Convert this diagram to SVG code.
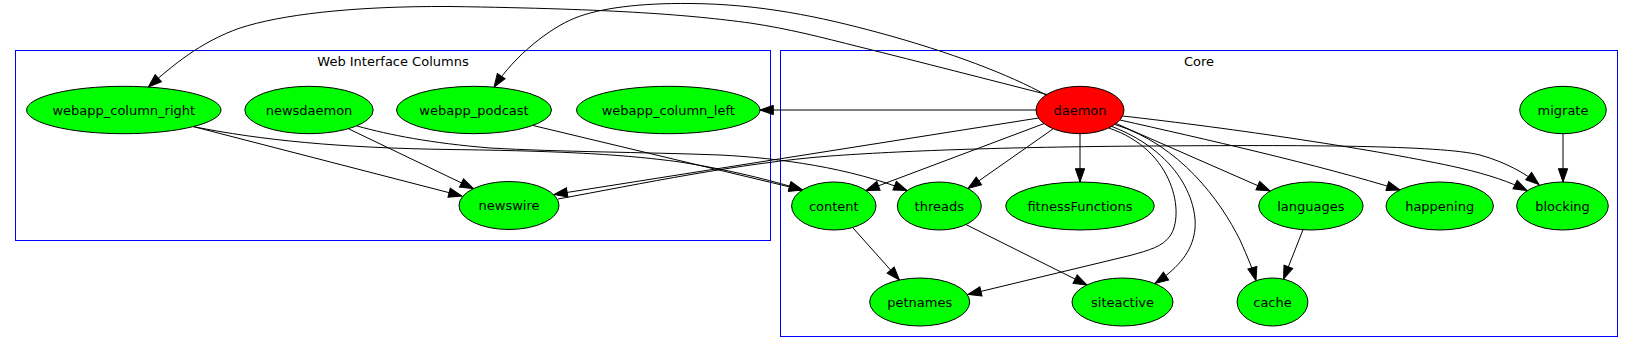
<svg xmlns="http://www.w3.org/2000/svg" width="1635" height="353" viewBox="0 0 1635 353">
<style>
.cl{fill:none;stroke:#0000ff;stroke-width:1}
.ct{font-family:"DejaVu Sans",sans-serif;font-size:13px;text-anchor:middle;fill:#000}
.n{fill:#00ff00;stroke:#000;stroke-width:1}
.r{fill:#ff0000;stroke:#000;stroke-width:1}
.t{font-family:"DejaVu Sans",sans-serif;font-size:13px;text-anchor:middle;fill:#000}
.e{fill:none;stroke:#000;stroke-width:1;marker-end:url(#ah)}
</style>
<defs>
<marker id="ah" markerUnits="userSpaceOnUse" markerWidth="15" markerHeight="11" refX="13.3" refY="4.67" orient="auto" overflow="visible">
<path d="M0,0 L13.3,4.67 L0,9.33 Z" fill="#000" stroke="#000" stroke-width="1"/>
</marker>
</defs>
<rect x="0" y="0" width="1635" height="353" fill="#fff"/>
<g id="cluster_web">
<rect class="cl" x="15.5" y="50.5" width="755" height="190"/>
<text class="ct" x="393" y="66">Web Interface Columns</text>
</g>
<g id="cluster_core">
<rect class="cl" x="780.5" y="50.5" width="837" height="286"/>
<text class="ct" x="1199" y="66">Core</text>
</g>
<g id="edges">
<path id="e_daemon_colright" class="e" d="M1047,94.5 C990,80 920,62 860,47 C820,37 790,29 750,23 C690,15 620,9 450,6.5 C350,6 280,15 240,28 C200,42 172,66 148.3,87"/>
<path id="e_daemon_podcast" class="e" d="M1046,95 C1010,75 950,52 880,33 C820,16.7 760,4 690,3.5 C640,3 600,8 575,18 C550,28 515,55 494,87.3"/>
<path id="e_daemon_colleft" class="e" d="M1036,110 L760,110"/>
<path id="e_daemon_newswire" class="e" d="M1038.6,118 L554,194.5"/>
<path id="e_daemon_content" class="e" d="M1044,123.6 L866,190.5"/>
<path id="e_daemon_threads" class="e" d="M1053.2,128.8 L968,188.5"/>
<path id="e_daemon_fitness" class="e" d="M1080,133.7 L1080,182"/>
<path id="e_daemon_petnames" class="e" d="M1108.6,128 C1175,150 1185,215 1170,236 C1162.5,246.5 1150,250 1130,255.5 L968,294.5"/>
<path id="e_daemon_siteactive" class="e" d="M1112,126.5 C1185,155 1200,210 1194,235 C1190,255 1175,270 1155,283.5"/>
<path id="e_daemon_cache" class="e" d="M1115,124.5 C1180,145 1220,200 1240,240 C1248,258 1253,270 1256,280.5"/>
<path id="e_daemon_languages" class="e" d="M1116,123.5 L1270,191"/>
<path id="e_daemon_happening" class="e" d="M1120,120 C1200,138 1320,165 1400,190"/>
<path id="e_daemon_blocking" class="e" d="M1122.5,116 C1230,128 1380,150 1460,168 C1490,175 1510,182 1527,190.5"/>
<path id="e_migrate_blocking" class="e" d="M1563,133.7 L1563,182"/>
<path id="e_content_petnames" class="e" d="M852.6,227.5 L899.5,280"/>
<path id="e_threads_siteactive" class="e" d="M966,224.6 L1087,285"/>
<path id="e_languages_cache" class="e" d="M1303,229.7 L1283.5,279.2"/>
<path id="e_colright_newswire" class="e" d="M193.3,126.6 L462,196"/>
<path id="e_newsdaemon_newswire" class="e" d="M348.3,128.7 L473.5,188.7"/>
<path id="e_colright_content" class="e" d="M193.3,126.6 C260,140 340,148 450,149.5 C560,151 620,154 680,162 C730,170 770,180 802.5,190"/>
<path id="e_newsdaemon_threads" class="e" d="M357,126 C390,135 430,143 490,148 C560,152 640,152 720,155 C780,158 850,168 907,190.5"/>
<path id="e_podcast_content" class="e" d="M533,125.5 L802.5,190"/>
<path id="e_newswire_blocking" class="e" d="M558,199 C640,184 740,163 830,156 C900,151 1000,147 1150,146 C1300,145 1440,145 1480,155 C1505,162 1525,173 1539,184.5"/>
</g>
<g id="node_webapp_column_right"><ellipse class="n" cx="123.8" cy="110" rx="97.2" ry="23.7"/><text class="t" x="123.8" y="114.5">webapp_column_right</text></g>
<g id="node_newsdaemon"><ellipse class="n" cx="309" cy="110" rx="64.2" ry="23.7"/><text class="t" x="309" y="114.5">newsdaemon</text></g>
<g id="node_webapp_podcast"><ellipse class="n" cx="474" cy="110" rx="77.5" ry="23.7"/><text class="t" x="474" y="114.5">webapp_podcast</text></g>
<g id="node_webapp_column_left"><ellipse class="n" cx="668.3" cy="110" rx="91.7" ry="23.7"/><text class="t" x="668.3" y="114.5">webapp_column_left</text></g>
<g id="node_newswire"><ellipse class="n" cx="509" cy="205.5" rx="50" ry="24"/><text class="t" x="509" y="210">newswire</text></g>
<g id="node_daemon"><ellipse class="r" cx="1080" cy="110" rx="44" ry="23.7"/><text class="t" x="1080" y="114.5">daemon</text></g>
<g id="node_migrate"><ellipse class="n" cx="1563" cy="110" rx="43.3" ry="23.7"/><text class="t" x="1563" y="114.5">migrate</text></g>
<g id="node_content"><ellipse class="n" cx="833.8" cy="206" rx="42.2" ry="24"/><text class="t" x="833.8" y="210.5">content</text></g>
<g id="node_threads"><ellipse class="n" cx="939.3" cy="206" rx="42" ry="24"/><text class="t" x="939.3" y="210.5">threads</text></g>
<g id="node_fitnessFunctions"><ellipse class="n" cx="1080" cy="206" rx="74.3" ry="24"/><text class="t" x="1080" y="210.5">fitnessFunctions</text></g>
<g id="node_languages"><ellipse class="n" cx="1310.9" cy="206" rx="52.2" ry="24"/><text class="t" x="1310.9" y="210.5">languages</text></g>
<g id="node_happening"><ellipse class="n" cx="1439.7" cy="206" rx="53.7" ry="24"/><text class="t" x="1439.7" y="210.5">happening</text></g>
<g id="node_blocking"><ellipse class="n" cx="1562.5" cy="206" rx="45.8" ry="24"/><text class="t" x="1562.5" y="210.5">blocking</text></g>
<g id="node_petnames"><ellipse class="n" cx="919.7" cy="302" rx="50" ry="24"/><text class="t" x="919.7" y="306.5">petnames</text></g>
<g id="node_siteactive"><ellipse class="n" cx="1122.5" cy="302" rx="50.5" ry="24"/><text class="t" x="1122.5" y="306.5">siteactive</text></g>
<g id="node_cache"><ellipse class="n" cx="1272.5" cy="302" rx="35.4" ry="24"/><text class="t" x="1272.5" y="306.5">cache</text></g>
</svg>
